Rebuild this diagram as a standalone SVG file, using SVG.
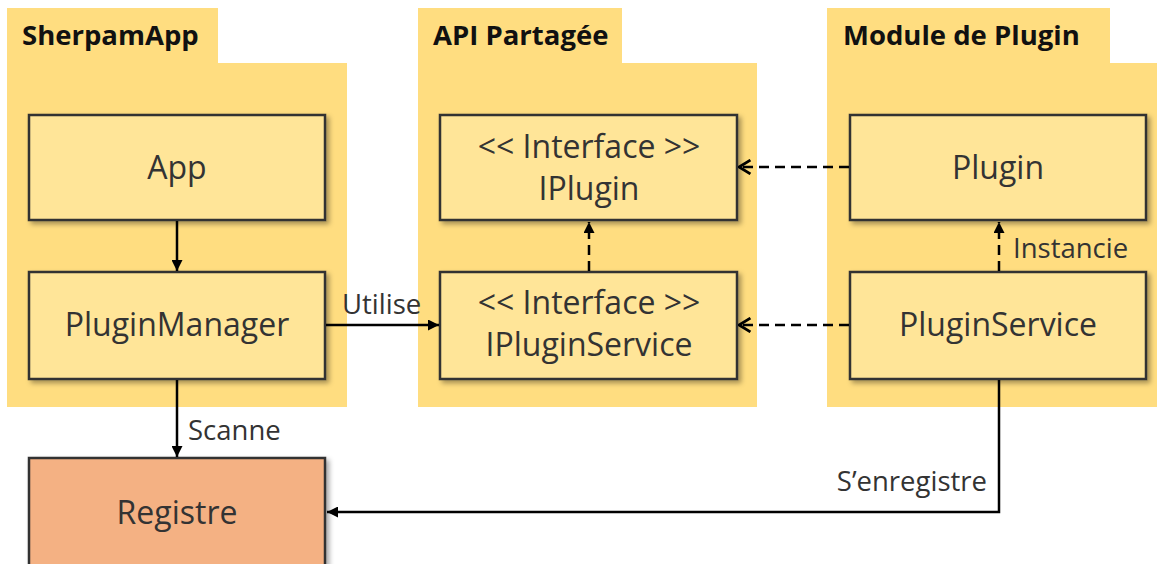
<svg xmlns="http://www.w3.org/2000/svg" width="1157" height="564" viewBox="0 0 1157 564">
<style>
.pkg{fill:#FFDD80;}
.title{font-family:"Open Sans","Noto Sans",sans-serif;font-weight:bold;font-size:27.5px;fill:#111;}
.box{fill:#FFE598;stroke:#333;stroke-width:2.5;filter:url(#sh);}
.reg{fill:#F4B183;stroke:#333;stroke-width:2.5;filter:url(#sh);}
.txt{font-family:"Open Sans","Noto Sans",sans-serif;font-size:32px;fill:#333;text-anchor:middle;}
.lbl{font-family:"Open Sans","Noto Sans",sans-serif;font-size:27.5px;fill:#333;}
.solid{fill:none;stroke:#000;stroke-width:2.5;}
.dash{fill:none;stroke:#000;stroke-width:2.5;stroke-dasharray:10 6;}
</style>
<defs>
<filter id="sh" x="-10%" y="-10%" width="130%" height="130%">
<feDropShadow dx="3" dy="3" stdDeviation="2.5" flood-color="#000" flood-opacity="0.35"/>
</filter>
<marker id="tri" viewBox="0 0 10 10" refX="10" refY="5" markerWidth="11" markerHeight="11" markerUnits="userSpaceOnUse" orient="auto">
<path d="M0,0 L10,5 L0,10 Z" fill="#000"/>
</marker>
<marker id="vee" viewBox="0 0 12 14" refX="11" refY="7" markerWidth="14" markerHeight="16" markerUnits="userSpaceOnUse" orient="auto">
<path d="M1,1 L11,7 L1,13" fill="none" stroke="#000" stroke-width="2.5"/>
</marker>
</defs>

<g id="pkg-sherpam">
<path class="pkg" d="M7,8 H218 V63 H347 V407 H7 Z"/>
<text class="title" x="22" y="45">SherpamApp</text>
</g>
<g id="pkg-api">
<path class="pkg" d="M418,8 H622 V63 H757 V407 H418 Z"/>
<text class="title" x="433" y="45">API Partagée</text>
</g>
<g id="pkg-module">
<path class="pkg" d="M827,8 H1110 V63 H1157 V407 H827 Z"/>
<text class="title" x="843" y="45">Module de Plugin</text>
</g>

<g id="app">
<rect class="box" x="29" y="115" width="296" height="105"/>
<text class="txt" x="177" y="179">App</text>
</g>
<g id="pluginmanager">
<rect class="box" x="29" y="272" width="296" height="107"/>
<text class="txt" x="177" y="336">PluginManager</text>
</g>
<g id="registre">
<rect class="reg" x="29" y="458" width="296" height="120"/>
<text class="txt" x="177" y="524">Registre</text>
</g>
<g id="iplugin">
<rect class="box" x="440" y="115" width="297" height="105"/>
<text class="txt" x="589" y="158">&lt;&lt; Interface &gt;&gt;</text>
<text class="txt" x="589" y="200">IPlugin</text>
</g>
<g id="ipluginservice">
<rect class="box" x="440" y="272" width="297" height="107"/>
<text class="txt" x="589" y="314">&lt;&lt; Interface &gt;&gt;</text>
<text class="txt" x="589" y="356">IPluginService</text>
</g>
<g id="plugin">
<rect class="box" x="850" y="115" width="296" height="105"/>
<text class="txt" x="998" y="179">Plugin</text>
</g>
<g id="pluginservice">
<rect class="box" x="850" y="272" width="296" height="107"/>
<text class="txt" x="998" y="336">PluginService</text>
</g>

<g id="connectors">
<line class="solid" x1="177" y1="221" x2="177" y2="271" marker-end="url(#tri)"/>
<line class="solid" x1="326" y1="325" x2="439" y2="325" marker-end="url(#tri)"/>
<text class="lbl" x="342" y="314">Utilise</text>
<line class="solid" x1="177" y1="380" x2="177" y2="457" marker-end="url(#tri)"/>
<text class="lbl" x="188" y="440">Scanne</text>
<line class="dash" x1="589" y1="271" x2="589" y2="222" marker-end="url(#tri)"/>
<line class="dash" x1="849" y1="167" x2="739" y2="167" marker-end="url(#vee)"/>
<line class="dash" x1="849" y1="325" x2="739" y2="325" marker-end="url(#vee)"/>
<line class="dash" x1="999" y1="271" x2="999" y2="222" marker-end="url(#tri)"/>
<text class="lbl" x="1013" y="258">Instancie</text>
<polyline class="solid" points="999,380 999,512 327,512" marker-end="url(#tri)"/>
<text class="lbl" x="987" y="491" text-anchor="end">S’enregistre</text>
</g>
</svg>
